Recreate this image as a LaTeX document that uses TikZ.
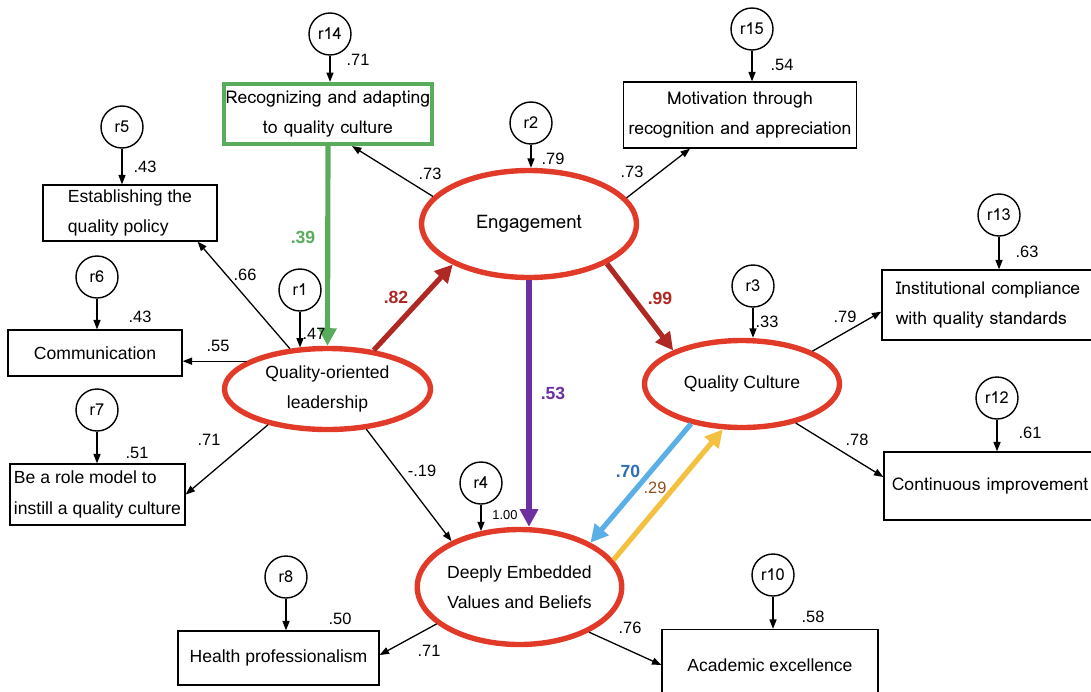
\documentclass[tikz,border=0pt]{standalone}
\usepackage{fontspec}
\setmainfont{Liberation Sans}
\newfontfamily\lomafont{Loma}
\usetikzlibrary{arrows.meta,positioning,shapes.geometric}

\definecolor{ellred}{RGB}{226,58,40}
\definecolor{pathred}{RGB}{175,40,35}
\definecolor{recgreen}{RGB}{88,172,92}
\definecolor{pathpurple}{RGB}{110,48,160}
\definecolor{pathblue}{RGB}{90,175,230}
\definecolor{pathyellow}{RGB}{244,192,64}
\definecolor{labelblue}{RGB}{45,110,180}
\definecolor{labelbrown}{RGB}{140,80,30}

\begin{document}
\begin{tikzpicture}
[x=0.03cm,y=-0.03cm,
latent/.style={ellipse,draw=ellred,line width=4.6pt,inner sep=0pt,align=center,font=\fontsize{15}{26}\selectfont},
obs/.style={rectangle,draw,line width=1.1pt,inner sep=0pt,align=center,font=\fontsize{15}{26}\selectfont},
thai/.style={font=\lomafont\fontsize{15}{26}\selectfont},
err/.style={circle,draw,line width=1.2pt,minimum size=1.26cm,inner sep=0pt,font=\lomafont\fontsize{14}{16}\selectfont},
loadarrow/.style={line width=1.1pt,-{Triangle[length=8pt,width=6pt]}},
bigarrow/.style={line width=4.4pt,-{Triangle[length=15pt,width=15pt]}},
coef/.style={inner sep=0pt,font=\fontsize{14}{16}\selectfont},
bigcoef/.style={inner sep=0pt,font=\bfseries\fontsize{15}{17}\selectfont}]
\useasboundingbox (0,0) rectangle (1091,691);

% latent variables
\node (qol) at (327.5,389) [latent,minimum width=6.18cm,minimum height=2.43cm] {Quality-oriented\\leadership};
\node (eng) at (529,224) [latent,minimum width=6.45cm,minimum height=3.21cm,font=\lomafont\fontsize{16}{26}\selectfont] {Engagement};
\node (qc) at (742,384) [latent,minimum width=5.85cm,minimum height=2.61cm] {Quality Culture};
\node (deep) at (519.5,587) [latent,minimum width=6.0cm,minimum height=3.45cm] {Deeply Embedded\\Values and Beliefs};

% observed variables
\node (rec) at (328,114) [obs,thai,draw=recgreen,line width=3.5pt,minimum width=6.24cm,minimum height=1.8cm] {Recognizing and adapting\\to quality culture};
\node (estab) at (130,213) [obs,align=left,minimum width=5.22cm,minimum height=1.68cm] {Establishing the\\quality policy};
\node (comm) at (95,353) [obs,minimum width=5.22cm,minimum height=1.38cm] {Communication};
\node (role) at (97.5,494.5) [obs,align=left,minimum width=5.25cm,minimum height=1.83cm] {Be a role model to\\instill a quality culture};
\node (motiv) at (740,115) [obs,thai,minimum width=6.99cm,minimum height=1.98cm] {Motivation through\\recognition and appreciation};
\node (inst) at (988,305) [obs,thai,align=left,minimum width=6.36cm,minimum height=2.1cm] {Institutional compliance\\with quality standards};
\node (cont) at (990,486) [obs,thai,minimum width=6.36cm,minimum height=2.04cm] {Continuous improvement};
\node (health) at (278.5,658) [obs,minimum width=6.03cm,minimum height=1.62cm] {Health professionalism};
\node (acad) at (770,665) [obs,minimum width=6.48cm,minimum height=2.13cm] {Academic excellence};

% error terms
\node (r14) at (330,34) [err] {r14};
\node (r5) at (122,127) [err] {r5};
\node (r6) at (97,277) [err] {r6};
\node (r1) at (300,290) [err] {r1};
\node (r7) at (97,410) [err] {r7};
\node (r2) at (531,123) [err] {r2};
\node (r15) at (752,29) [err] {r15};
\node (r3) at (753,286) [err] {r3};
\node (r13) at (999,215) [err] {r13};
\node (r12) at (997,398) [err] {r12};
\node (r4) at (481,483) [err] {r4};
\node (r8) at (286,577) [err] {r8};
\node (r10) at (773,575) [err] {r10};

\draw[loadarrow] (r14) -- (r14 |- rec.north);
\draw[loadarrow] (r5) -- (r5 |- estab.north);
\draw[loadarrow] (r6) -- (r6 |- comm.north);
\draw[loadarrow] (r1) -- (r1 |- qol.125);
\draw[loadarrow] (r7) -- (r7 |- role.north);
\draw[loadarrow] (r2) -- (r2 |- eng.north);
\draw[loadarrow] (r15) -- (r15 |- motiv.north);
\draw[loadarrow] (r3) -- (r3 |- qc.north);
\draw[loadarrow] (r13) -- (r13 |- inst.north);
\draw[loadarrow] (r12) -- (r12 |- cont.north);
\draw[loadarrow] (r4) -- (r4 |- deep.125);
\draw[loadarrow] (r8) -- (r8 |- health.north);
\draw[loadarrow] (r10) -- (r10 |- acad.north);

% paths
\draw[loadarrow] (qol.133) -- ([xshift=-0.6cm]estab.south east);
\draw[loadarrow] (qol.161) -- (qol.161 -| comm.east);
\draw[loadarrow] (qol.211) -- (role.east);
\draw[loadarrow] (qol.314) -- (deep.146);
\draw[bigarrow,draw=pathred] (qol.40) -- (eng.208);
\draw[bigarrow,draw=recgreen] (rec.south) -- (qol.north);
\draw[loadarrow] (eng.164) -- ([xshift=0.72cm]rec.south);
\draw[loadarrow] (eng.15) -- ([xshift=-1.5cm]motiv.south);
\draw[bigarrow,draw=pathred] (eng.333) -- (qc.154);
\draw[bigarrow,draw=pathpurple] (eng.south) -- (eng.south |- deep.north);
\draw[loadarrow] (qc.25) -- ([yshift=-0.2cm]inst.west);
\draw[loadarrow] (qc.324) -- ([yshift=0.27cm]cont.west);
\draw[bigarrow,draw=pathblue] (qc.218) -- (deep.32);
\draw[bigarrow,draw=pathyellow] (deep.16) -- (qc.247);
\draw[loadarrow] (deep.204) -- ([yshift=0.09cm]health.east);
\draw[loadarrow] (deep.327) -- (acad.west);

% coefficients
\node (e14) at (358,60) [coef] {.71};
\node (e5) at (145,167) [coef] {.43};
\node (e6) at (140,317) [coef] {.43};
\node (e1) at (314,334) [coef] {.47};
\node (e7) at (137,453) [coef] {.51};
\node (e2) at (553,159) [coef] {.79};
\node (e15) at (782,65) [coef] {.54};
\node (e3) at (767,322) [coef] {.33};
\node (e13) at (1027,252) [coef] {.63};
\node (e12) at (1030,433) [coef] {.61};
\node (e4) at (505,515) [coef,font=\fontsize{11}{13}\selectfont] {1.00};
\node (e8) at (340,619) [coef] {.50};
\node (e10) at (813,617) [coef] {.58};

\node (l-qolestab) at (245,275) [coef] {.66};
\node (l-qolcomm) at (218,346) [coef] {.55};
\node (l-qolrole) at (209,440) [coef] {.71};
\node (l-qoldeep) at (422,471) [coef] {-.19};
\node (l-engrec) at (430,174) [coef] {.73};
\node (l-engmotiv) at (632,172) [coef] {.73};
\node (l-qcinst) at (845,317) [coef] {.79};
\node (l-qccont) at (857,440) [coef] {.78};
\node (l-deephealth) at (429,651) [coef] {.71};
\node (l-deepacad) at (630,628) [coef] {.76};

\node (l-qoleng) at (396,297) [bigcoef,text=pathred] {.82};
\node (l-recqol) at (303,237) [bigcoef,text=recgreen] {.39};
\node (l-engdeep) at (553,393) [bigcoef,text=pathpurple] {.53};
\node (l-engqc) at (660,298) [bigcoef,text=pathred] {.99};
\node (l-qcdeep) at (628,471) [bigcoef,text=labelblue] {.70};
\node (l-deepqc) at (655,488) [coef,text=labelbrown] {.29};
\end{tikzpicture}
\end{document}
